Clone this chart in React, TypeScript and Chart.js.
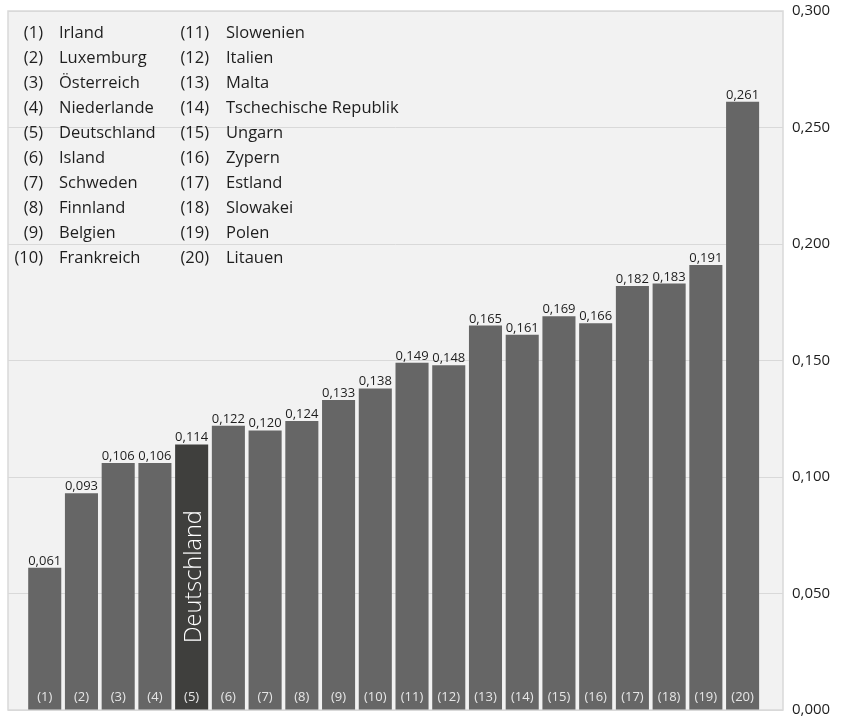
import { useEffect, useRef } from "react";
import { Chart, registerables } from "chart.js";

Chart.register(...registerables);

const countries = [
  "Irland",
  "Luxemburg",
  "Österreich",
  "Niederlande",
  "Deutschland",
  "Island",
  "Schweden",
  "Finnland",
  "Belgien",
  "Frankreich",
  "Slowenien",
  "Italien",
  "Malta",
  "Tschechische Republik",
  "Ungarn",
  "Zypern",
  "Estland",
  "Slowakei",
  "Polen",
  "Litauen",
];

const barLabels = countries.map((_, i) => `(${i + 1})`);

const values = [
  0.061, 0.093, 0.106, 0.106, 0.114, 0.122, 0.12, 0.124, 0.133, 0.138,
  0.149, 0.148, 0.165, 0.161, 0.169, 0.166, 0.182, 0.183, 0.191, 0.261,
];

const highlight = "Deutschland";

const yMin = 0;
const yMax = 0.3;
const yStep = 0.05;

const FONT = "'Open Sans', 'DejaVu Sans', sans-serif";
const BAR = "#666666";
const BAR_DARK = "#3f3f3d";
const PLOT_BG = "#f2f2f2";
const GRID = "#d9d9d9";
const TEXT = "#1e1e1e";

const fmt = (v: number) => v.toFixed(3).replace(".", ",");

// Grey plot panel with a thin frame.
const panelPlugin = {
  id: "panel",
  beforeDraw(chart: any) {
    const { ctx, chartArea: a } = chart;
    ctx.save();
    ctx.fillStyle = PLOT_BG;
    ctx.fillRect(a.left, a.top, a.right - a.left, a.bottom - a.top);
    ctx.strokeStyle = GRID;
    ctx.lineWidth = 1.5;
    ctx.strokeRect(a.left, a.top, a.right - a.left, a.bottom - a.top);
    ctx.restore();
  },
};

// Value labels above bars, index labels inside bars, the highlighted
// country's name and the numbered country list.
const annotatePlugin = {
  id: "annotate",
  afterDatasetsDraw(chart: any) {
    const { ctx, chartArea: a } = chart;
    const meta = chart.getDatasetMeta(0);
    ctx.save();

    meta.data.forEach((bar: any, i: number) => {
      ctx.fillStyle = TEXT;
      ctx.font = `13px ${FONT}`;
      ctx.textAlign = "center";
      ctx.textBaseline = "alphabetic";
      ctx.fillText(fmt(values[i]), bar.x, bar.y - 3);

      ctx.fillStyle = "#e6e6e6";
      ctx.font = `13px ${FONT}`;
      ctx.textBaseline = "middle";
      ctx.fillText(barLabels[i], bar.x, a.bottom - 13);

      if (countries[i] === highlight) {
        ctx.save();
        ctx.translate(bar.x + 9.5, a.bottom - 67);
        ctx.rotate(-Math.PI / 2);
        ctx.fillStyle = "#ffffff";
        ctx.font = `300 23.5px ${FONT}`;
        ctx.textAlign = "left";
        ctx.textBaseline = "alphabetic";
        ctx.fillText(countries[i], 0, 0);
        ctx.restore();
      }
    });

    ctx.fillStyle = TEXT;
    ctx.font = `16.5px ${FONT}`;
    ctx.textBaseline = "alphabetic";
    const rows = 10;
    countries.forEach((name, i) => {
      const col = Math.floor(i / rows);
      const row = i % rows;
      const y = a.top + 27 + row * 25;
      const numRight = a.left + (col === 0 ? 35 : 201);
      const nameLeft = a.left + (col === 0 ? 51 : 218);
      ctx.textAlign = "right";
      ctx.fillText(barLabels[i], numRight, y);
      ctx.textAlign = "left";
      ctx.fillText(name, nameLeft, y);
    });

    ctx.restore();
  },
};

export default function App() {
  const ref = useRef<HTMLCanvasElement>(null);

  useEffect(() => {
    document.body.style.margin = "0";
    const canvas = ref.current;
    if (!canvas) return;

    const chart = new Chart(canvas, {
      type: "bar",
      data: {
        datasets: [
          {
            data: values.map((v, i) => ({ x: i + 1, y: v })),
            backgroundColor: countries.map((c) => (c === highlight ? BAR_DARK : BAR)),
            borderWidth: 0,
            barPercentage: 0.9,
            categoryPercentage: 1,
          },
        ],
      },
      options: {
        responsive: false,
        maintainAspectRatio: false,
        animation: false,
        layout: { padding: { left: 8, top: 11, bottom: 7, right: 0 } },
        plugins: {
          legend: { display: false },
          tooltip: { enabled: false },
        },
        scales: {
          x: {
            type: "linear",
            display: false,
            offset: false,
            min: 0,
            max: countries.length + 1.1,
          },
          y: {
            position: "right",
            min: yMin,
            max: yMax,
            ticks: {
              stepSize: yStep,
              padding: 9,
              color: TEXT,
              font: { family: FONT, size: 15 },
              callback: (v: any) => fmt(Number(v)),
            },
            grid: { color: GRID, lineWidth: 1, drawTicks: false },
            border: { display: false },
            afterFit: (s: any) => {
              s.width = 59;
              s.paddingTop = 0;
              s.paddingBottom = 0;
            },
          },
        },
      } as any,
      plugins: [panelPlugin, annotatePlugin],
    });

    return () => chart.destroy();
  }, []);

  return (
    <div style={{ width: 842, height: 717, background: "#ffffff" }}>
      <canvas ref={ref} width={842} height={717} style={{ display: "block" }} />
    </div>
  );
}
